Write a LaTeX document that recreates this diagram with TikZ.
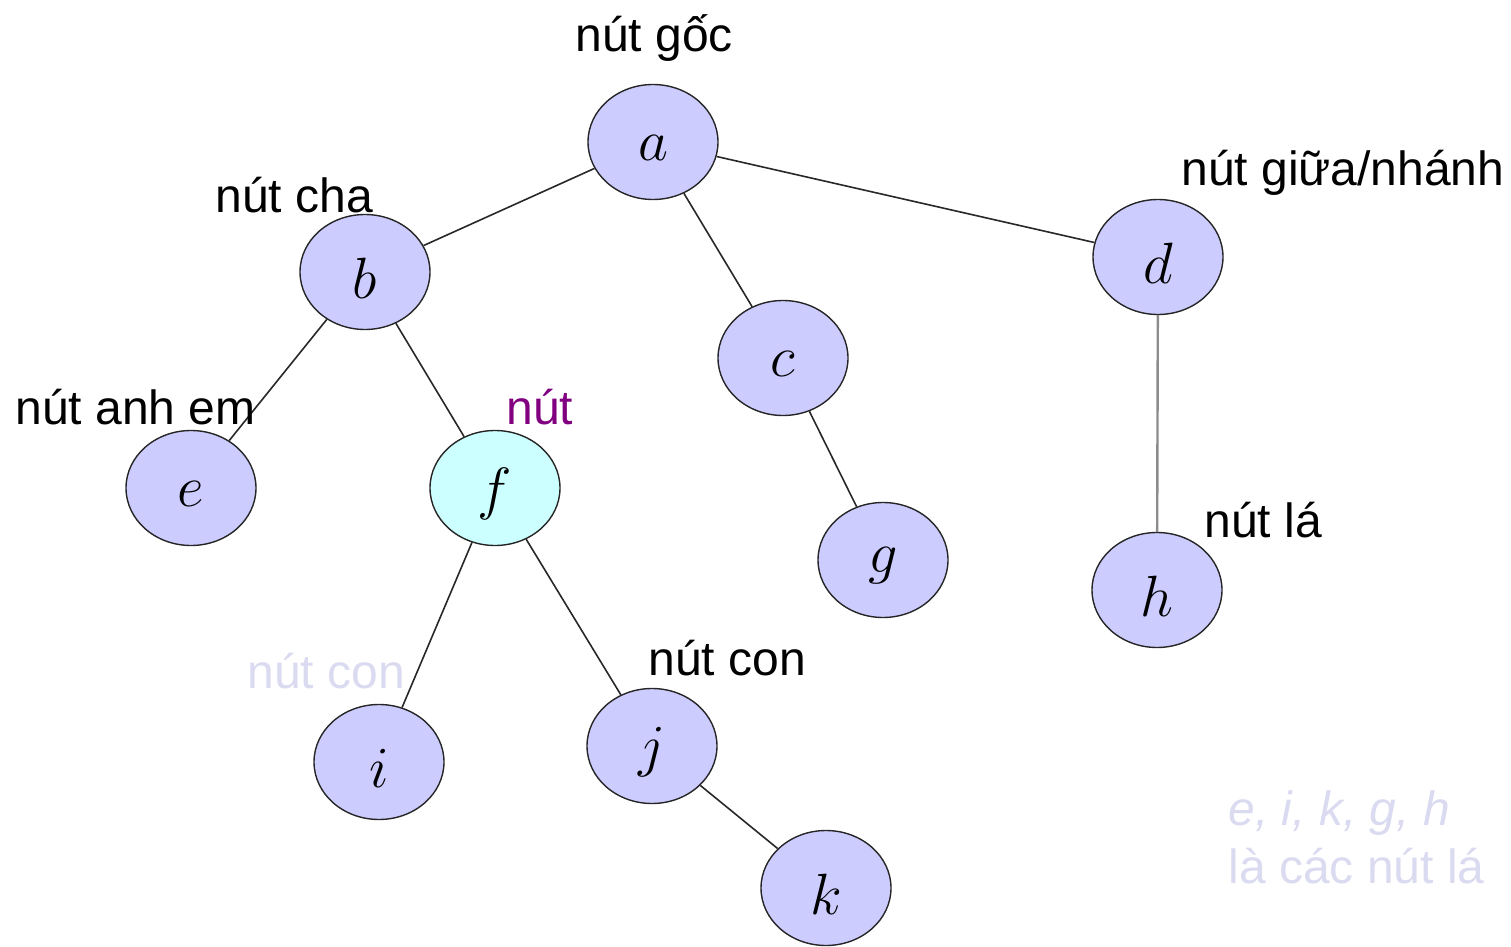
\documentclass[tikz,border=0pt]{standalone}
\usepackage{graphicx}
\usepackage{fontspec}
\setmainfont{Liberation Sans}
\usetikzlibrary{shapes.geometric}
\definecolor{nodefill}{RGB}{204,204,255}
\definecolor{cyanfill}{RGB}{204,255,255}
\definecolor{lightlab}{RGB}{218,218,240}
\definecolor{purplelab}{RGB}{128,0,128}
\definecolor{edgecol}{RGB}{40,40,40}
\newcommand{\nlet}[1]{\scalebox{1.17}{$#1$}}
\tikzset{
  treenode/.style={ellipse, draw=black!85, line width=0.7pt, fill=nodefill,
    minimum width=65pt, minimum height=57.5pt, inner sep=0pt},
  nodeletter/.style={inner sep=0pt, yshift=-3pt, font=\fontsize{24.88}{28}\selectfont},
  edgeline/.style={draw=edgecol, line width=0.8pt},
  lab/.style={anchor=base west, inner sep=0pt, font=\fontsize{24}{28}\selectfont}
}
\begin{document}
\begin{tikzpicture}[x=0.5pt, y=-0.5pt]
\useasboundingbox (0,0) rectangle (1511,947);
% nodes
\node[treenode] (a) at (653,142) {};
\node[treenode] (b) at (365,272) {};
\node[treenode] (c) at (783,358) {};
\node[treenode] (d) at (1158,257) {};
\node[treenode] (e) at (191,488) {};
\node[treenode, fill=cyanfill] (f) at (495,488) {};
\node[treenode] (g) at (883,560) {};
\node[treenode] (h) at (1157,590) {};
\node[treenode] (i) at (379,762) {};
\node[treenode] (j) at (652,746) {};
\node[treenode] (k) at (826,888) {};
% node letters
\node[nodeletter] (ta) at (a.center) {\nlet{a}};
\node[nodeletter] (tb) at (b.center) {\nlet{b}};
\node[nodeletter] (tc) at (c.center) {\nlet{c}};
\node[nodeletter] (td) at (d.center) {\nlet{d}};
\node[nodeletter] (te) at (e.center) {\nlet{e}};
\node[nodeletter] (tf) at (f.center) {\nlet{f}};
\node[nodeletter] (tg) at (g.center) {\nlet{g}};
\node[nodeletter] (th) at (h.center) {\nlet{h}};
\node[nodeletter] (ti) at (i.center) {\nlet{i}};
\node[nodeletter] (tj) at (j.center) {\nlet{j}};
\node[nodeletter] (tk) at (k.center) {\nlet{k}};
% edges
\draw[edgeline] (a) -- (b);
\draw[edgeline] (a) -- (c);
\draw[edgeline] (a) -- (d);
\draw[edgeline] (b) -- (e);
\draw[edgeline] (b) -- (f);
\draw[edgeline] (c) -- (g);
\draw[edgeline, draw=black!45, line width=1.2pt] (d) -- (h);
\draw[edgeline] (f) -- (i);
\draw[edgeline] (f) -- (j);
\draw[edgeline] (j) -- (k);
% labels
\node[lab] (lgoc) at (575,52) {nút gốc};
\node[lab] (lcha) at (215,213) {nút cha};
\node[lab] (lgiua) at (1181,185) {nút giữa/nhánh};
\node[lab] (lanh) at (15,424) {nút anh em};
\node[lab, text=purplelab] (lnut) at (506,424) {nút};
\node[lab] (lla) at (1204,537) {nút lá};
\node[lab, text=lightlab] (lcon1) at (247,688) {nút con};
\node[lab] (lcon2) at (648,675) {nút con};
\node[lab, text=lightlab, font=\fontsize{24}{28}\selectfont\itshape] (lleaf1) at (1228,825) {e, i, k, g, h};
\node[lab, text=lightlab] (lleaf2) at (1228,883) {là các nút lá};
\end{tikzpicture}
\end{document}
